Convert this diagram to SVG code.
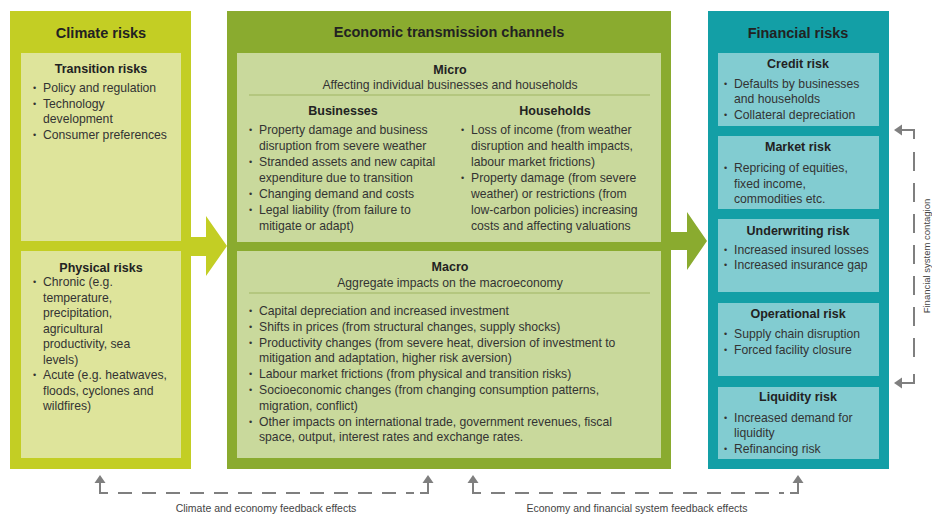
<svg xmlns="http://www.w3.org/2000/svg" width="932" height="517" viewBox="0 0 932 517">
<style>
text{font-family:"Liberation Sans",Arial,sans-serif;fill:#333;}
.h{font-size:14.5px;font-weight:bold;fill:#222;text-anchor:middle;}
.s{font-size:12.5px;font-weight:bold;fill:#222;text-anchor:middle;}
.t{font-size:12.2px;}
.st{font-size:12.2px;text-anchor:middle;}
.b{font-size:9px;}
.f{font-size:10.5px;fill:#444;text-anchor:middle;}
.fv{font-size:9.5px;fill:#444;text-anchor:middle;}
.c1o{fill:#c3ce24;}
.c1i{fill:#dee49b;}
.c2o{fill:#8aab2f;}
.c2i{fill:#c9d99c;}
.c3o{fill:#139fa6;}
.c3i{fill:#82ccd1;}
.ln{stroke:#7f7f7f;stroke-width:2;fill:none;}
.dh{stroke-dasharray:14 10;}
.dv{stroke-dasharray:19 12;}
.ah{fill:#7f7f7f;}
</style>

<g id="big-arrows">
<polygon class="c1o" points="190,237 206,237 206,216 227,246 206,276 206,256 190,256"/>
<polygon class="c2o" points="670,232 687,232 687,212 707,241 687,270 687,250 670,250"/>
</g>

<g id="climate">
<rect class="c1o" x="10" y="11" width="181" height="458"/>
<text class="h" x="101" y="38">Climate risks</text>
<g id="transition">
<rect class="c1i" x="21" y="53" width="160" height="188"/>
<text class="s" x="101" y="73">Transition risks</text>
<text class="b" x="33" y="91">•</text><text class="t" x="43" y="92">Policy and regulation</text>
<text class="b" x="33" y="106.5">•</text><text class="t" x="43" y="107.5">Technology</text>
<text class="t" x="43" y="123">development</text>
<text class="b" x="33" y="137.5">•</text><text class="t" x="43" y="138.5">Consumer preferences</text>
</g>
<g id="physical">
<rect class="c1i" x="21" y="251" width="160" height="207"/>
<text class="s" x="101" y="272">Physical risks</text>
<text class="b" x="33" y="285">•</text><text class="t" x="43" y="286">Chronic (e.g.</text>
<text class="t" x="43" y="301.5">temperature,</text>
<text class="t" x="43" y="317">precipitation,</text>
<text class="t" x="43" y="332.5">agricultural</text>
<text class="t" x="43" y="348">productivity, sea</text>
<text class="t" x="43" y="363.5">levels)</text>
<text class="b" x="33" y="378">•</text><text class="t" x="43" y="379">Acute (e.g. heatwaves,</text>
<text class="t" x="43" y="394.5">floods, cyclones and</text>
<text class="t" x="43" y="410">wildfires)</text>
</g>
</g>

<g id="economic">
<rect class="c2o" x="227" y="11" width="444" height="458"/>
<text class="h" x="449" y="37">Economic transmission channels</text>
<g id="micro">
<rect class="c2i" x="237" y="53" width="424" height="189"/>
<text class="s" x="450" y="74">Micro</text>
<text class="st" x="450" y="89">Affecting individual businesses and households</text>
<line x1="249" y1="95" x2="650" y2="95" stroke="#9fb562" stroke-width="1"/>
<text class="s" x="343" y="115">Businesses</text>
<text class="s" x="555" y="115">Households</text>
<text class="b" x="249" y="133">•</text><text class="t" x="259" y="134">Property damage and business</text>
<text class="t" x="259" y="150">disruption from severe weather</text>
<text class="b" x="249" y="165">•</text><text class="t" x="259" y="166">Stranded assets and new capital</text>
<text class="t" x="259" y="182">expenditure due to transition</text>
<text class="b" x="249" y="197">•</text><text class="t" x="259" y="198">Changing demand and costs</text>
<text class="b" x="249" y="213">•</text><text class="t" x="259" y="214">Legal liability (from failure to</text>
<text class="t" x="259" y="230">mitigate or adapt)</text>
<text class="b" x="461" y="133">•</text><text class="t" x="471" y="134">Loss of income (from weather</text>
<text class="t" x="471" y="150">disruption and health impacts,</text>
<text class="t" x="471" y="166">labour market frictions)</text>
<text class="b" x="461" y="181">•</text><text class="t" x="471" y="182">Property damage (from severe</text>
<text class="t" x="471" y="198">weather) or restrictions (from</text>
<text class="t" x="471" y="214">low-carbon policies) increasing</text>
<text class="t" x="471" y="230">costs and affecting valuations</text>
</g>
<g id="macro">
<rect class="c2i" x="237" y="251" width="424" height="207"/>
<text class="s" x="450" y="271">Macro</text>
<text class="st" x="450" y="287">Aggregate impacts on the macroeconomy</text>
<line x1="249" y1="293" x2="650" y2="293" stroke="#9fb562" stroke-width="1"/>
<text class="b" x="249" y="314">•</text><text class="t" x="259" y="315">Capital depreciation and increased investment</text>
<text class="b" x="249" y="330">•</text><text class="t" x="259" y="331">Shifts in prices (from structural changes, supply shocks)</text>
<text class="b" x="249" y="345.5">•</text><text class="t" x="259" y="346.5">Productivity changes (from severe heat, diversion of investment to</text>
<text class="t" x="259" y="362">mitigation and adaptation, higher risk aversion)</text>
<text class="b" x="249" y="377">•</text><text class="t" x="259" y="378">Labour market frictions (from physical and transition risks)</text>
<text class="b" x="249" y="393">•</text><text class="t" x="259" y="394">Socioeconomic changes (from changing consumption patterns,</text>
<text class="t" x="259" y="409.5">migration, conflict)</text>
<text class="b" x="249" y="424.5">•</text><text class="t" x="259" y="425.5">Other impacts on international trade, government revenues, fiscal</text>
<text class="t" x="259" y="441">space, output, interest rates and exchange rates.</text>
</g>
</g>

<g id="financial">
<rect class="c3o" x="708" y="11" width="181" height="458"/>
<text class="h" x="798" y="38">Financial risks</text>
<g id="credit">
<rect class="c3i" x="718" y="53" width="161" height="73"/>
<text class="s" x="798" y="68">Credit risk</text>
<text class="b" x="724" y="87">•</text><text class="t" x="734" y="88">Defaults by businesses</text>
<text class="t" x="734" y="103">and households</text>
<text class="b" x="724" y="118">•</text><text class="t" x="734" y="119">Collateral depreciation</text>
</g>
<g id="market">
<rect class="c3i" x="718" y="136" width="161" height="73"/>
<text class="s" x="798" y="151">Market risk</text>
<text class="b" x="724" y="171">•</text><text class="t" x="734" y="172">Repricing of equities,</text>
<text class="t" x="734" y="188">fixed income,</text>
<text class="t" x="734" y="203">commodities etc.</text>
</g>
<g id="underwriting">
<rect class="c3i" x="718" y="219" width="161" height="73"/>
<text class="s" x="798" y="235">Underwriting risk</text>
<text class="b" x="724" y="253">•</text><text class="t" x="734" y="254">Increased insured losses</text>
<text class="b" x="724" y="268">•</text><text class="t" x="734" y="269">Increased insurance gap</text>
</g>
<g id="operational">
<rect class="c3i" x="718" y="303" width="161" height="73"/>
<text class="s" x="798" y="318">Operational risk</text>
<text class="b" x="724" y="337">•</text><text class="t" x="734" y="338">Supply chain disruption</text>
<text class="b" x="724" y="353">•</text><text class="t" x="734" y="354">Forced facility closure</text>
</g>
<g id="liquidity">
<rect class="c3i" x="718" y="387" width="161" height="72"/>
<text class="s" x="798" y="401">Liquidity risk</text>
<text class="b" x="724" y="421">•</text><text class="t" x="734" y="422">Increased demand for</text>
<text class="t" x="734" y="437">liquidity</text>
<text class="b" x="724" y="452">•</text><text class="t" x="734" y="453">Refinancing risk</text>
</g>
</g>

<g id="connectors">
<polyline class="ln" points="100,482 100,493 108,493"/>
<line class="ln dh" x1="118" y1="493" x2="414" y2="493"/>
<polyline class="ln" points="420,493 428,493 428,482"/>
<polygon class="ah" points="100,475 94.5,483 105.5,483"/>
<polygon class="ah" points="428,475 422.5,483 433.5,483"/>
<text class="f" x="266" y="512">Climate and economy feedback effects</text>
<polyline class="ln" points="473,482 473,493 481,493"/>
<line class="ln dh" x1="491" y1="493" x2="784" y2="493"/>
<polyline class="ln" points="790,493 798,493 798,482"/>
<polygon class="ah" points="473,475 467.5,483 478.5,483"/>
<polygon class="ah" points="798,475 792.5,483 803.5,483"/>
<text class="f" x="637" y="512">Economy and financial system feedback effects</text>
<polyline class="ln" points="901,130 914,130 914,139"/>
<line class="ln dv" x1="914" y1="152" x2="914" y2="364"/>
<polyline class="ln" points="914,374 914,383 901,383"/>
<polygon class="ah" points="894,130 902,124.5 902,135.5"/>
<polygon class="ah" points="894,383 902,377.5 902,388.5"/>
<text class="fv" transform="translate(930,256) rotate(-90)">Financial system contagion</text>
</g>
</svg>
